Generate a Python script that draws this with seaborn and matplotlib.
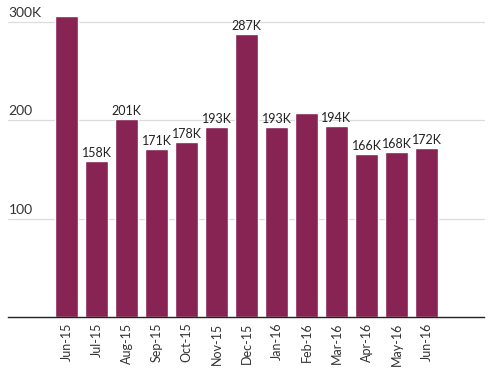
import matplotlib
matplotlib.use('Agg')
import matplotlib.pyplot as plt
import seaborn as sns
import pandas as pd

months = ['Jun-15', 'Jul-15', 'Aug-15', 'Sep-15', 'Oct-15', 'Nov-15', 'Dec-15',
          'Jan-16', 'Feb-16', 'Mar-16', 'Apr-16', 'May-16', 'Jun-16']
sales_k = [306, 158, 201, 171, 178, 193, 287, 193, 207, 194, 166, 168, 172]
bar_labels = ['', '158K', '201K', '171K', '178K', '193K', '287K',
              '193K', '', '194K', '166K', '168K', '172K']
y_ticks = [100, 200, 300]
y_tick_labels = ['100', '200', '300K']

df = pd.DataFrame({'month': months, 'sales': sales_k})

sns.set_style('white')
plt.rcParams['font.family'] = ['Lato', 'DejaVu Sans']

fig = plt.figure(figsize=(4.96, 3.71), dpi=100)
ax = fig.add_axes([0, 0.1456, 1, 0.8544])

sns.barplot(data=df, x='month', y='sales', color='#872453', saturation=1,
            width=0.77, ax=ax)

ax.set_xlim(-2.217, 14.317)
ax.set_ylim(0, 322)

# light gridlines + labels sitting above them
for t, lab in zip(y_ticks, y_tick_labels):
    ax.axhline(t, xmin=0.016, xmax=0.976, color='#dcdcdc', lw=0.9, zorder=0)
    ax.text(-1.93, t + 3, lab, fontsize=10, color='#333333', ha='left', va='bottom')

for i, (v, lab) in enumerate(zip(sales_k, bar_labels)):
    if lab:
        ax.text(i, v + 2, lab, fontsize=9, color='#222222', ha='center', va='bottom')

ax.set_yticks([])
ax.set_xlabel('')
ax.set_ylabel('')
ax.tick_params(axis='x', length=0, pad=4, labelsize=9, labelcolor='#333333')
plt.setp(ax.get_xticklabels(), rotation=90)

for s in ['top', 'right', 'left']:
    ax.spines[s].set_visible(False)
ax.spines['bottom'].set_bounds(-1.95, 13.92)
ax.spines['bottom'].set_color('#222222')
ax.spines['bottom'].set_linewidth(1)

fig.savefig('out.png', dpi=100)
